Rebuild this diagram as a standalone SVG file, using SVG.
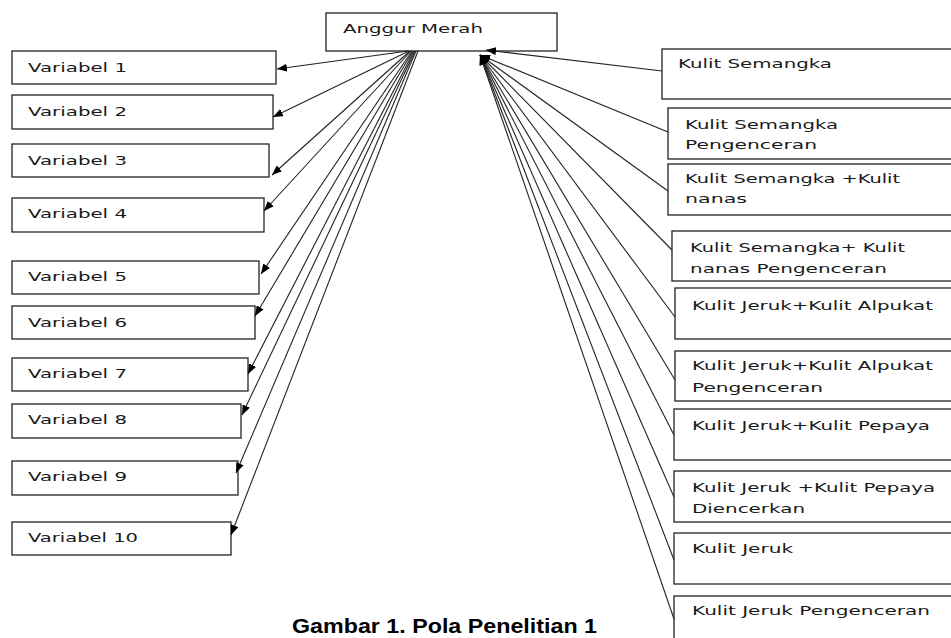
<svg xmlns="http://www.w3.org/2000/svg" width="951" height="638" viewBox="0 0 951 638">
<style>
.box{fill:#fff;stroke:#222;stroke-width:1.3}
.t{font-family:"DejaVu Sans",Verdana,sans-serif;fill:#1a1a1a}
.s11{font-size:12px}
.s12{font-size:13px}
.cap{font-family:"Liberation Sans",Arial,sans-serif;font-weight:bold;font-size:20px;fill:#000}
.c{stroke:#222;stroke-width:1.1;fill:none}
.l{marker-end:url(#ah)}
</style>
<defs>
<marker id="ah" markerUnits="userSpaceOnUse" markerWidth="10" markerHeight="8" refX="10" refY="4" orient="auto">
<path d="M0,0 L10,4 L0,8 z" fill="#000"/>
</marker>
</defs>
<rect width="951" height="638" fill="#fff"/>

<g id="anggur-merah">
<rect class="box" x="326" y="13" width="231" height="38"/>
<text class="t s12" x="343" y="33" textLength="140" lengthAdjust="spacingAndGlyphs">Anggur Merah</text>
</g>

<g id="variabel-1"><rect class="box" x="12" y="51" width="264" height="33"/><text class="t s11" x="28" y="72" textLength="99" lengthAdjust="spacingAndGlyphs">Variabel 1</text></g>
<g id="variabel-2"><rect class="box" x="12" y="95" width="261" height="34"/><text class="t s11" x="28" y="116" textLength="99" lengthAdjust="spacingAndGlyphs">Variabel 2</text></g>
<g id="variabel-3"><rect class="box" x="12" y="144" width="257" height="33"/><text class="t s11" x="28" y="165" textLength="99" lengthAdjust="spacingAndGlyphs">Variabel 3</text></g>
<g id="variabel-4"><rect class="box" x="12" y="198" width="252" height="34"/><text class="t s11" x="28" y="218" textLength="99" lengthAdjust="spacingAndGlyphs">Variabel 4</text></g>
<g id="variabel-5"><rect class="box" x="12" y="261" width="247" height="33"/><text class="t s11" x="28" y="281" textLength="99" lengthAdjust="spacingAndGlyphs">Variabel 5</text></g>
<g id="variabel-6"><rect class="box" x="12" y="306" width="243" height="33"/><text class="t s11" x="28" y="327" textLength="99" lengthAdjust="spacingAndGlyphs">Variabel 6</text></g>
<g id="variabel-7"><rect class="box" x="12" y="358" width="236" height="33"/><text class="t s11" x="28" y="378" textLength="99" lengthAdjust="spacingAndGlyphs">Variabel 7</text></g>
<g id="variabel-8"><rect class="box" x="12" y="404" width="229" height="34"/><text class="t s11" x="28" y="424" textLength="99" lengthAdjust="spacingAndGlyphs">Variabel 8</text></g>
<g id="variabel-9"><rect class="box" x="12" y="461" width="226" height="34"/><text class="t s11" x="28" y="481" textLength="99" lengthAdjust="spacingAndGlyphs">Variabel 9</text></g>
<g id="variabel-10"><rect class="box" x="12" y="522" width="219" height="33"/><text class="t s11" x="28" y="542" textLength="110" lengthAdjust="spacingAndGlyphs">Variabel 10</text></g>

<g id="kulit-semangka"><rect class="box" x="662" y="49" width="300" height="50"/><text class="t s12" x="678" y="68" textLength="154" lengthAdjust="spacingAndGlyphs">Kulit Semangka</text></g>
<g id="kulit-semangka-pengenceran"><rect class="box" x="668" y="108" width="300" height="51"/><text class="t s12" x="685" y="129" textLength="153" lengthAdjust="spacingAndGlyphs">Kulit Semangka</text><text class="t s12" x="685" y="149" textLength="132" lengthAdjust="spacingAndGlyphs">Pengenceran</text></g>
<g id="kulit-semangka-kulit-nanas"><rect class="box" x="668" y="164" width="300" height="51"/><text class="t s12" x="685" y="183" textLength="215" lengthAdjust="spacingAndGlyphs">Kulit Semangka +Kulit</text><text class="t s12" x="685" y="203" textLength="62" lengthAdjust="spacingAndGlyphs">nanas</text></g>
<g id="kulit-semangka-kulit-nanas-pengenceran"><rect class="box" x="672" y="231" width="300" height="50"/><text class="t s12" x="690" y="252" textLength="215" lengthAdjust="spacingAndGlyphs">Kulit Semangka+ Kulit</text><text class="t s12" x="690" y="273" textLength="197" lengthAdjust="spacingAndGlyphs">nanas Pengenceran</text></g>
<g id="kulit-jeruk-kulit-alpukat"><rect class="box" x="675" y="288" width="300" height="51"/><text class="t s12" x="692" y="310" textLength="241" lengthAdjust="spacingAndGlyphs">Kulit Jeruk+Kulit Alpukat</text></g>
<g id="kulit-jeruk-kulit-alpukat-pengenceran"><rect class="box" x="675" y="351" width="300" height="50"/><text class="t s12" x="692" y="370" textLength="241" lengthAdjust="spacingAndGlyphs">Kulit Jeruk+Kulit Alpukat</text><text class="t s12" x="692" y="392" textLength="131" lengthAdjust="spacingAndGlyphs">Pengenceran</text></g>
<g id="kulit-jeruk-kulit-pepaya"><rect class="box" x="674" y="409" width="300" height="51"/><text class="t s12" x="692" y="430" textLength="238" lengthAdjust="spacingAndGlyphs">Kulit Jeruk+Kulit Pepaya</text></g>
<g id="kulit-jeruk-kulit-pepaya-diencerkan"><rect class="box" x="674" y="471" width="300" height="51"/><text class="t s12" x="692" y="492" textLength="243" lengthAdjust="spacingAndGlyphs">Kulit Jeruk +Kulit Pepaya</text><text class="t s12" x="692" y="513" textLength="113" lengthAdjust="spacingAndGlyphs">Diencerkan</text></g>
<g id="kulit-jeruk"><rect class="box" x="674" y="533" width="300" height="51"/><text class="t s12" x="692" y="553" textLength="101" lengthAdjust="spacingAndGlyphs">Kulit Jeruk</text></g>
<g id="kulit-jeruk-pengenceran"><rect class="box" x="674" y="596" width="300" height="60"/><text class="t s12" x="692" y="615" textLength="238" lengthAdjust="spacingAndGlyphs">Kulit Jeruk Pengenceran</text></g>

<g id="connectors">
<line class="c l" x1="408" y1="51" x2="277" y2="69"/>
<line class="c l" x1="409" y1="51" x2="273" y2="117"/>
<line class="c l" x1="410" y1="51" x2="272" y2="175"/>
<line class="c l" x1="411" y1="51" x2="264" y2="211"/>
<line class="c l" x1="412" y1="51" x2="261" y2="274"/>
<line class="c l" x1="413" y1="51" x2="255" y2="316"/>
<line class="c l" x1="414" y1="51" x2="248" y2="374"/>
<line class="c l" x1="415" y1="51" x2="242" y2="415"/>
<line class="c l" x1="416" y1="51" x2="236" y2="473"/>
<line class="c l" x1="418" y1="51" x2="231" y2="535"/>

<line class="c l" x1="662" y1="71" x2="486" y2="50"/>
<line class="c l" x1="668" y1="132" x2="480" y2="55"/>
<line class="c l" x1="668" y1="191" x2="480" y2="55"/>
<line class="c l" x1="672" y1="250" x2="480" y2="55"/>
<line class="c l" x1="675" y1="317" x2="480" y2="55"/>
<line class="c l" x1="675" y1="380" x2="480" y2="55"/>
<line class="c l" x1="674" y1="435" x2="480" y2="55"/>
<line class="c l" x1="674" y1="497" x2="480" y2="55"/>
<line class="c l" x1="674" y1="560" x2="480" y2="55"/>
<line class="c l" x1="674" y1="619" x2="480" y2="55"/>
</g>

<text class="cap" x="292" y="633" textLength="305" lengthAdjust="spacingAndGlyphs">Gambar 1. Pola Penelitian 1</text>
</svg>
